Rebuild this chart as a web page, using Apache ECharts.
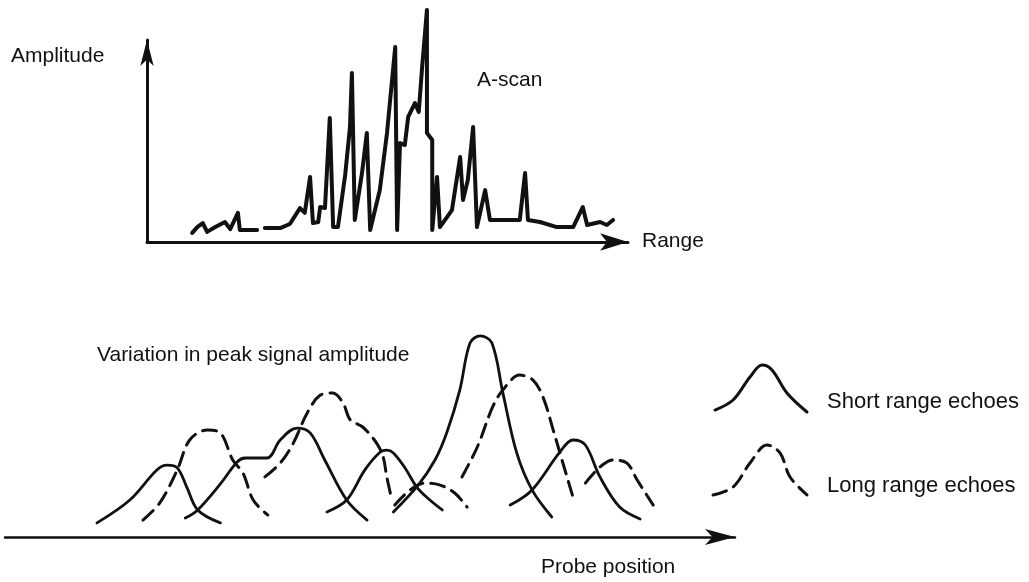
<!DOCTYPE html>
<html>
<head>
<meta charset="utf-8">
<script src="https://cdn.jsdelivr.net/npm/echarts@6/dist/echarts.min.js"></script>
<style>
html, body { margin: 0; padding: 0; background: #fff; }
#main { width: 1029px; height: 582px; }
</style>
</head>
<body>
<div id="main"></div>
<script>
// A-scan trace, [range, amplitude]
var aScan = [
    [9.4, 4.5], [10.5, 7.5], [11.6, 9.4], [12.5, 5], [14.2, 7.4], [16.2, 9.9], [17.3, 6.4],
    [18.9, 14.4], [19.3, 5.9], [22.9, 5.9], [23.7, '-'], [24.5, 6.9], [27.7, 6.9], [29.7, 8.9],
    [31.8, 16.8], [32.8, 14.4], [33.9, 32.2], [34.5, 9.4], [35.6, 9.9], [36.0, 17.3], [37.0, 16.8],
    [38.0, 61.4], [38.7, 7.4], [39.7, 7.4], [41.2, 33.2], [42.2, 56.9], [42.6, 83.7], [43.2, 10.9],
    [44.7, 34.2], [45.7, 54.0], [46.4, 5.9], [48.4, 25.7], [49.9, 54.0], [51.6, 96.5], [52.0, 5.9],
    [52.6, 49.0], [53.6, 48.0], [54.3, 61.9], [55.7, 68.8], [56.5, 64.4], [57.2, 86.6], [58.2, 114.9],
    [58.2, 54.0], [59.3, 50.5], [59.3, 5.9], [60.3, 32.2], [60.9, 7.4], [63.4, 15.8], [65.1, 42.1],
    [65.7, 20.8], [66.7, 30.7], [67.8, 56.9], [68.6, 7.4], [70.3, 25.7], [71.3, 10.9], [77.5, 10.9],
    [78.6, 34.2], [79.2, 10.9], [81.7, 9.9], [85.2, 7.4], [88.6, 7.4], [90.6, 17.3], [91.5, 8.4],
    [94.2, 9.9], [95.6, 8.4], [96.9, 10.9]
];

// short range echoes (solid), [probe position, peak amplitude]
var short1 = [[12.6, 6.4], [17.1, 16.8], [20.8, 30.5], [22.2, 32.7], [23.6, 31.4], [24.9, 22.7], [26.4, 12.3], [29.5, 6.4]];
var short2 = [[24.7, 8.6], [26.4, 12.3], [29.5, 24.1], [31.8, 34.1], [32.9, 35.9], [35.9, 35.9], [37.7, 44.1], [40.0, 49.5], [41.8, 47.3], [43.8, 35.0], [46.8, 16.8], [49.6, 7.7]];
var short3 = [[44.1, 11.4], [46.8, 16.8], [49.3, 30.5], [51.4, 38.6], [52.3, 39.5], [53.2, 38.2], [54.8, 31.4], [56.4, 22.7], [58.2, 16.8], [59.9, 12.3]];
var short4 = [[53.2, 11.4], [56.6, 23.6], [58.9, 35.0], [60.5, 47.3], [62.3, 66.8], [63.7, 88.2], [65.1, 91.4], [66.7, 88.2], [68.2, 65.5], [70.1, 38.2], [72.2, 21.4], [74.9, 9.1]];
var short5 = [[69.2, 14.5], [72.2, 21.4], [76.0, 38.6], [77.8, 44.1], [79.5, 41.8], [81.5, 27.3], [84.2, 13.6], [87.0, 8.2]];

// long range echoes (dashed)
var long1 = [[18.9, 7.7], [21.2, 15.5], [23.6, 30.5], [25.3, 44.1], [27.7, 48.6], [29.5, 47.3], [31.2, 35.0], [32.6, 29.1], [34.0, 16.8], [36.0, 10.0]];
var long2 = [[35.6, 27.3], [37.7, 33.6], [39.5, 42.7], [41.4, 56.4], [43.2, 64.5], [44.9, 65.5], [46.3, 60.9], [47.3, 53.2], [49.0, 50.0], [50.9, 42.7], [51.8, 36.4], [52.3, 27.3], [53.0, 16.8]];
var long3 = [[53.4, 14.5], [55.5, 21.4], [57.5, 24.5], [59.6, 23.6], [61.6, 20.0], [63.3, 13.6]];
var long4 = [[62.6, 27.3], [64.7, 40.9], [66.8, 59.1], [68.2, 66.8], [70.5, 73.6], [72.3, 71.4], [73.7, 63.6], [75.1, 48.6], [76.3, 35.0], [77.4, 22.7], [77.8, 18.2]];
var long5 = [[79.5, 24.5], [81.5, 31.8], [83.3, 35.0], [85.2, 33.6], [86.6, 25.9], [88.8, 14.5]];

// legend key shapes
var keyShort = [[9.1, 63.3], [25.5, 70], [40.9, 85.3], [51.8, 93.3], [60.9, 90], [74.5, 74.7], [92.7, 62]];
var keyLong = [[7.3, 6.7], [25.5, 12], [40.9, 28], [56.4, 40], [68.2, 34.7], [77.3, 18.7], [92.7, 6.7]];

var shortEchoes = [short1, short2, short3, short4, short5];
var longEchoes = [long1, long2, long3, long4, long5];

var ink = '#111';
var font = 'Liberation Sans, Arial, Helvetica, sans-serif';
var dash = [14, 8];

var hiddenAxis = {
    axisLine: { show: false }, axisTick: { show: false },
    axisLabel: { show: false }, splitLine: { show: false }
};

function curve(data, grid, dashed, width) {
    return {
        type: 'line',
        xAxisIndex: grid, yAxisIndex: grid,
        data: data,
        symbol: 'none',
        smooth: dashed === null ? false : 0.35,
        clip: false,
        silent: true,
        lineStyle: {
            color: ink,
            width: width,
            type: dashed ? dash : 'solid',
            cap: 'round',
            join: 'round'
        }
    };
}

var series = [curve(aScan, 0, null, 4)];
for (var i = 0; i < shortEchoes.length; i++) {
    series.push(curve(shortEchoes[i], 1, false, 2.8));
}
for (var j = 0; j < longEchoes.length; j++) {
    series.push(curve(longEchoes[j], 1, true, 3));
}
series.push(curve(keyShort, 2, false, 3));
series.push(curve(keyLong, 2, true, 3));

function label(text, x, y, size) {
    return {
        type: 'text', left: x, top: y,
        style: { text: text, font: (size || 21) + 'px ' + font, fill: ink }
    };
}

var myChart = echarts.init(document.getElementById('main'));
var option = {
    animation: false,
    backgroundColor: '#fff',
    grid: [
        { left: 147, top: 40, width: 481, height: 202 },
        { left: 5, top: 317, width: 730, height: 220 },
        { left: 705, top: 355, width: 110, height: 150 }
    ],
    xAxis: [
        {
            type: 'value', gridIndex: 0, min: 0, max: 100,
            axisLine: { show: true, symbol: ['none', 'arrow'], symbolSize: [13, 28], lineStyle: { color: ink, width: 3 } },
            axisTick: { show: false }, axisLabel: { show: false }, splitLine: { show: false }
        },
        {
            type: 'value', gridIndex: 1, min: 0, max: 100,
            axisLine: { show: true, symbol: ['none', 'arrow'], symbolSize: [12, 30], lineStyle: { color: ink, width: 2.5 } },
            axisTick: { show: false }, axisLabel: { show: false }, splitLine: { show: false }
        },
        Object.assign({ type: 'value', gridIndex: 2, min: 0, max: 100 }, hiddenAxis)
    ],
    yAxis: [
        {
            type: 'value', gridIndex: 0, min: 0, max: 100,
            axisLine: { show: true, symbol: ['none', 'arrow'], symbolSize: [10, 26], lineStyle: { color: ink, width: 3 } },
            axisTick: { show: false }, axisLabel: { show: false }, splitLine: { show: false }
        },
        Object.assign({ type: 'value', gridIndex: 1, min: 0, max: 100 }, hiddenAxis),
        Object.assign({ type: 'value', gridIndex: 2, min: 0, max: 100 }, hiddenAxis)
    ],
    graphic: [
        label('Amplitude', 11, 46),
        label('A-scan', 477, 70),
        label('Range', 642, 231),
        label('Variation in peak signal amplitude', 97, 345),
        label('Probe position', 541, 557),
        label('Short range echoes', 827, 391, 22),
        label('Long range echoes', 827, 475, 22)
    ],
    series: series
};
myChart.setOption(option);
</script>
</body>
</html>
